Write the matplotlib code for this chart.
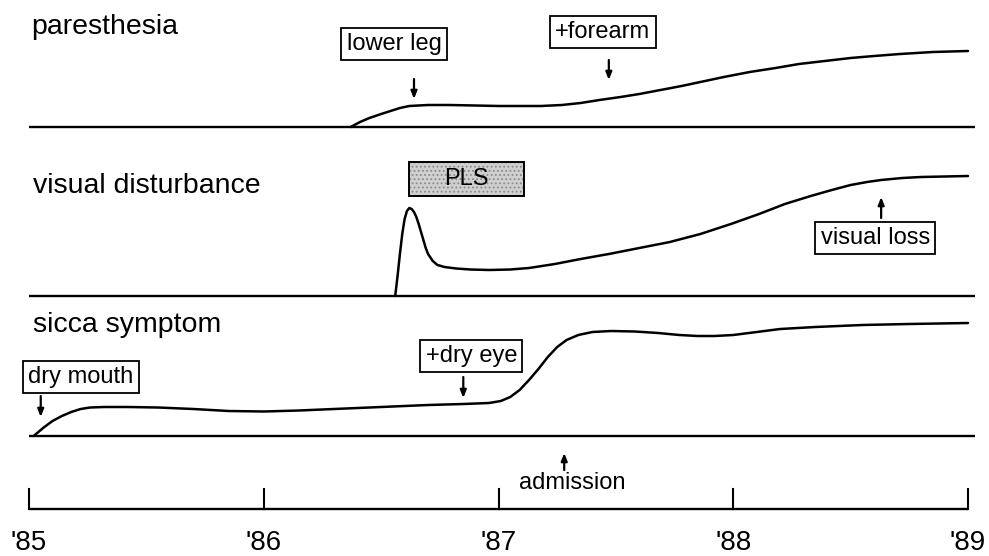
import matplotlib
matplotlib.use("Agg")
import matplotlib.pyplot as plt
from matplotlib.patches import Rectangle

plt.rcParams['font.family'] = ['Liberation Sans', 'DejaVu Sans']
plt.rcParams['hatch.linewidth'] = 0.8

# ---------------- data ----------------
years = [1985, 1986, 1987, 1988, 1989]
year_labels = ["'85", "'86", "'87", "'88", "'89"]

symptoms = ["paresthesia", "visual disturbance", "sicca symptom"]

par_t = [1986.37, 1986.41, 1986.45, 1986.50, 1986.54, 1986.58, 1986.62, 1986.70, 1986.79,
         1986.90, 1987.00, 1987.10, 1987.18, 1987.27, 1987.35, 1987.43, 1987.52, 1987.60,
         1987.69, 1987.78, 1987.86, 1987.96, 1988.07, 1988.18, 1988.28, 1988.39, 1988.50,
         1988.60, 1988.71, 1988.85, 1989.00]
par_v = [0, 5, 9, 13, 16, 19, 21, 22, 22,
         21.5, 21, 21, 21, 22, 24, 27, 30, 33,
         37, 41, 45, 50, 55, 59, 63, 66, 69,
         71, 73, 75, 76]

vis_t = [1986.56, 1986.57, 1986.58, 1986.59, 1986.60, 1986.61, 1986.62, 1986.63, 1986.64,
         1986.65, 1986.66, 1986.67, 1986.68, 1986.69, 1986.70, 1986.72, 1986.74, 1986.77,
         1986.82, 1986.88, 1986.96, 1987.05, 1987.13, 1987.24, 1987.35, 1987.47, 1987.60,
         1987.73, 1987.86, 1987.99, 1988.11, 1988.22, 1988.33, 1988.42, 1988.50, 1988.57,
         1988.63, 1988.72, 1988.80, 1988.90, 1989.00]
vis_v = [0, 20, 42, 62, 77, 85, 88, 87, 84,
         79, 72, 64, 56, 48, 42, 35, 31, 29,
         27.5, 26.5, 26, 26.5, 28, 32, 37, 42, 48,
         54, 62, 72, 82, 92, 100, 106, 111, 114,
         116, 118, 119, 119.5, 120]

sic_t = [1985.02, 1985.06, 1985.10, 1985.14, 1985.18, 1985.22, 1985.26, 1985.32, 1985.42,
         1985.55, 1985.70, 1985.85, 1986.00, 1986.15, 1986.30, 1986.50, 1986.70, 1986.85,
         1986.96, 1987.01, 1987.05, 1987.09, 1987.13, 1987.17, 1987.21, 1987.25, 1987.29,
         1987.34, 1987.40, 1987.48, 1987.58, 1987.68, 1987.77, 1987.85, 1987.92, 1988.00,
         1988.10, 1988.20, 1988.35, 1988.55, 1988.75, 1989.00]
sic_v = [0, 8, 15, 20, 24, 27, 28.5, 29, 29,
         28.5, 27, 25, 24.5, 25.5, 27, 29, 31, 32,
         33, 35, 39, 46, 56, 67, 79, 89, 96,
         101, 104, 105, 104.5, 103, 101, 100, 100, 101,
         104, 107, 109, 111, 112, 113]

curves_t = [par_t, vis_t, sic_t]
curves_v = [par_v, vis_v, sic_v]

event_labels = ["lower leg", "+forearm", "visual loss", "dry mouth", "+dry eye"]
event_times = [1986.64, 1987.47, 1988.63, 1985.05, 1986.85]
event_panels = [0, 0, 1, 2, 2]

pls_label = "PLS"
pls_start, pls_end = 1986.62, 1987.11

admission_label = "admission"
admission_time = 1987.28

# ---------------- layout ----------------
W, H = 989, 556
PX_PER_YEAR = 234.75
X0_PX = 29.0


def px2yr(px):
    return years[0] + (px - X0_PX) / PX_PER_YEAR


fig = plt.figure(figsize=(W / 100, H / 100), dpi=100)
ax = fig.add_axes([0, 0, 1, 1])
ax.set_xlim(px2yr(0), px2yr(W))
ax.set_ylim(H, 0)
ax.axis('off')

baselines = [127, 296, 436]
label_pos = [(31, 27), (33, 186), (33, 325)]
curve_lw = 1.8
base_lw = 1.7

for i, name in enumerate(symptoms):
    b = baselines[i]
    ax.plot([px2yr(29), px2yr(975)], [b, b], color='black', lw=base_lw,
            solid_capstyle='butt')
    ax.plot(curves_t[i], [b - v for v in curves_v[i]], color='black', lw=curve_lw,
            solid_capstyle='round', solid_joinstyle='round')
    lx, ly = label_pos[i]
    ax.text(px2yr(lx), ly, name, fontsize=20.5, ha='left', va='center')

ev_layout = [
    (-20, 44, 79, 99),     # lower leg (arrow down)
    (-6, 32, 60, 80),      # +forearm
    (-6, 238, 218, 197),   # visual loss (arrow up)
    (40, 377, 396, 417),   # dry mouth
    (8, 356, 377, 398),    # +dry eye
]
for lab, t, (dx, by, ay0, ay1) in zip(event_labels, event_times, ev_layout):
    xb = t + dx / PX_PER_YEAR
    ax.text(xb, by, lab, fontsize=17, ha='center', va='center',
            bbox=dict(boxstyle='square,pad=0.22', fc='white', ec='black', lw=1.3))
    ax.annotate('', xy=(t, ay1), xytext=(t, ay0),
                arrowprops=dict(arrowstyle='-|>,head_length=0.45,head_width=0.18',
                                color='black', lw=1.6, shrinkA=0, shrinkB=0))

# PLS shaded box: dotted grey fill + black frame
ax.add_patch(Rectangle((pls_start, 162), pls_end - pls_start, 34, fc='#cfcfcf',
                       ec='#8a8a8a', lw=0, hatch='....', zorder=3))
ax.add_patch(Rectangle((pls_start, 162), pls_end - pls_start, 34, fc='none',
                       ec='black', lw=1.4, zorder=4))
ax.text((pls_start + pls_end) / 2, 179, pls_label, fontsize=17, ha='center',
        va='center', zorder=5)

# time axis
ty = 509
ax.plot([years[0], years[-1]], [ty, ty], color='black', lw=1.7, solid_capstyle='butt')
for yv, yl in zip(years, year_labels):
    ax.plot([yv, yv], [ty, 489], color='black', lw=1.5)
    ax.text(yv, 543, yl, fontsize=20, ha='center', va='center')

# admission
ax.annotate('', xy=(admission_time, 453), xytext=(admission_time, 470),
            arrowprops=dict(arrowstyle='-|>,head_length=0.45,head_width=0.18',
                            color='black', lw=1.6, shrinkA=0, shrinkB=0))
ax.text(admission_time + 8 / PX_PER_YEAR, 483, admission_label, fontsize=17,
        ha='center', va='center')

fig.savefig('out.png', dpi=100)
